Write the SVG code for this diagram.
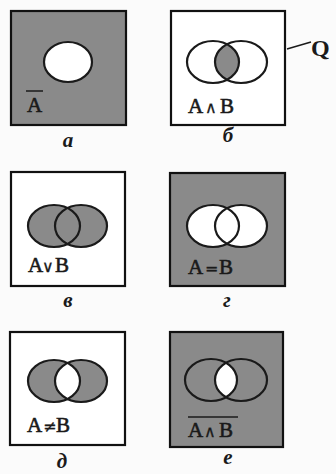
<svg xmlns="http://www.w3.org/2000/svg" width="336" height="474" viewBox="0 0 336 474">
<style>
.box{stroke:#111;stroke-width:2.2}
.g{fill:#8a8a8a}
.w{fill:#fff}
.c{fill:none;stroke:#1a1a1a;stroke-width:2.2}
.t{font-family:"Liberation Serif",serif;font-size:21px;fill:#1a1a1a;stroke:#1a1a1a;stroke-width:0.6}
.op{font-family:"DejaVu Serif","Liberation Serif",serif;font-size:16px;stroke-width:0.3}
.lab{font-family:"Liberation Serif",serif;font-size:21px;font-style:italic;font-weight:bold;fill:#1a1a1a;text-anchor:middle}
.ol{stroke:#1a1a1a;stroke-width:1.5}
</style>
<defs>
<clipPath id="clA"><ellipse cx="0" cy="0" rx="26" ry="21"/></clipPath>
</defs>
<rect width="336" height="474" fill="#fbfbfb"/>

<g id="node-a">
<rect class="box g" x="11" y="11" width="115" height="114"/>
<ellipse class="w" cx="68" cy="62" rx="24" ry="20"/>
<ellipse class="c" cx="68" cy="62" rx="24" ry="20"/>
<line class="ol" x1="26" y1="91" x2="43" y2="91"/>
<text class="t" x="27" y="112">A</text>
<text class="lab" x="68" y="147">а</text>
</g>

<g id="node-b">
<rect class="box w" x="171" y="11" width="114" height="114"/>
<g transform="translate(213,62)">
<ellipse class="g" cx="28" cy="0" rx="26" ry="21" clip-path="url(#clA)"/>
<ellipse class="c" cx="0" cy="0" rx="26" ry="21"/>
<ellipse class="c" cx="28" cy="0" rx="26" ry="21"/>
</g>
<text class="t" x="188" y="113">A<tspan class="op" x="205">∧</tspan><tspan x="220">B</tspan></text>
<text class="lab" x="228" y="142">б</text>
</g>

<g id="node-v">
<rect class="box w" x="11" y="172" width="114" height="114"/>
<g transform="translate(54,226)">
<ellipse class="g" cx="0" cy="0" rx="26" ry="21"/>
<ellipse class="g" cx="27" cy="0" rx="26" ry="21"/>
<ellipse class="c" cx="0" cy="0" rx="26" ry="21"/>
<ellipse class="c" cx="27" cy="0" rx="26" ry="21"/>
</g>
<text class="t" x="28" y="272">A<tspan class="op" x="42">∨</tspan><tspan x="55">B</tspan></text>
<text class="lab" x="68" y="307">в</text>
</g>

<g id="node-g">
<rect class="box g" x="170" y="173" width="115" height="113"/>
<g transform="translate(213,226)">
<ellipse class="w" cx="0" cy="0" rx="26" ry="21"/>
<ellipse class="w" cx="28" cy="0" rx="26" ry="21"/>
<ellipse class="c" cx="0" cy="0" rx="26" ry="21"/>
<ellipse class="c" cx="28" cy="0" rx="26" ry="21"/>
</g>
<text class="t" x="188" y="274">A<tspan class="op" x="205">=</tspan><tspan x="219">B</tspan></text>
<text class="lab" x="227" y="307">г</text>
</g>

<g id="node-d">
<rect class="box w" x="10" y="332" width="115" height="113"/>
<g transform="translate(54,381)">
<ellipse class="g" cx="0" cy="0" rx="26" ry="21"/>
<ellipse class="g" cx="27" cy="0" rx="26" ry="21"/>
<ellipse class="w" cx="27" cy="0" rx="26" ry="21" clip-path="url(#clA)"/>
<ellipse class="c" cx="0" cy="0" rx="26" ry="21"/>
<ellipse class="c" cx="27" cy="0" rx="26" ry="21"/>
</g>
<text class="t" x="27" y="432">A<tspan class="op" x="43">≠</tspan><tspan x="56">B</tspan></text>
<text class="lab" x="62" y="468">д</text>
</g>

<g id="node-e">
<rect class="box g" x="170" y="332" width="113" height="115"/>
<g transform="translate(211,380)">
<ellipse class="w" cx="30" cy="0" rx="26" ry="21" clip-path="url(#clA)"/>
<ellipse class="c" cx="0" cy="0" rx="26" ry="21"/>
<ellipse class="c" cx="30" cy="0" rx="26" ry="21"/>
</g>
<line class="ol" x1="188" y1="417" x2="238" y2="417"/>
<text class="t" x="188" y="437">A<tspan class="op" x="204">∧</tspan><tspan x="219">B</tspan></text>
<text class="lab" x="228" y="464">е</text>
</g>

<g id="connectors">
<line x1="287" y1="49" x2="311" y2="42" stroke="#1a1a1a" stroke-width="1.5"/>
</g>
<g id="node-q">
<text x="311" y="56" font-family="Liberation Serif,serif" font-size="24" font-weight="bold" fill="#1a1a1a">Q</text>
</g>
</svg>
